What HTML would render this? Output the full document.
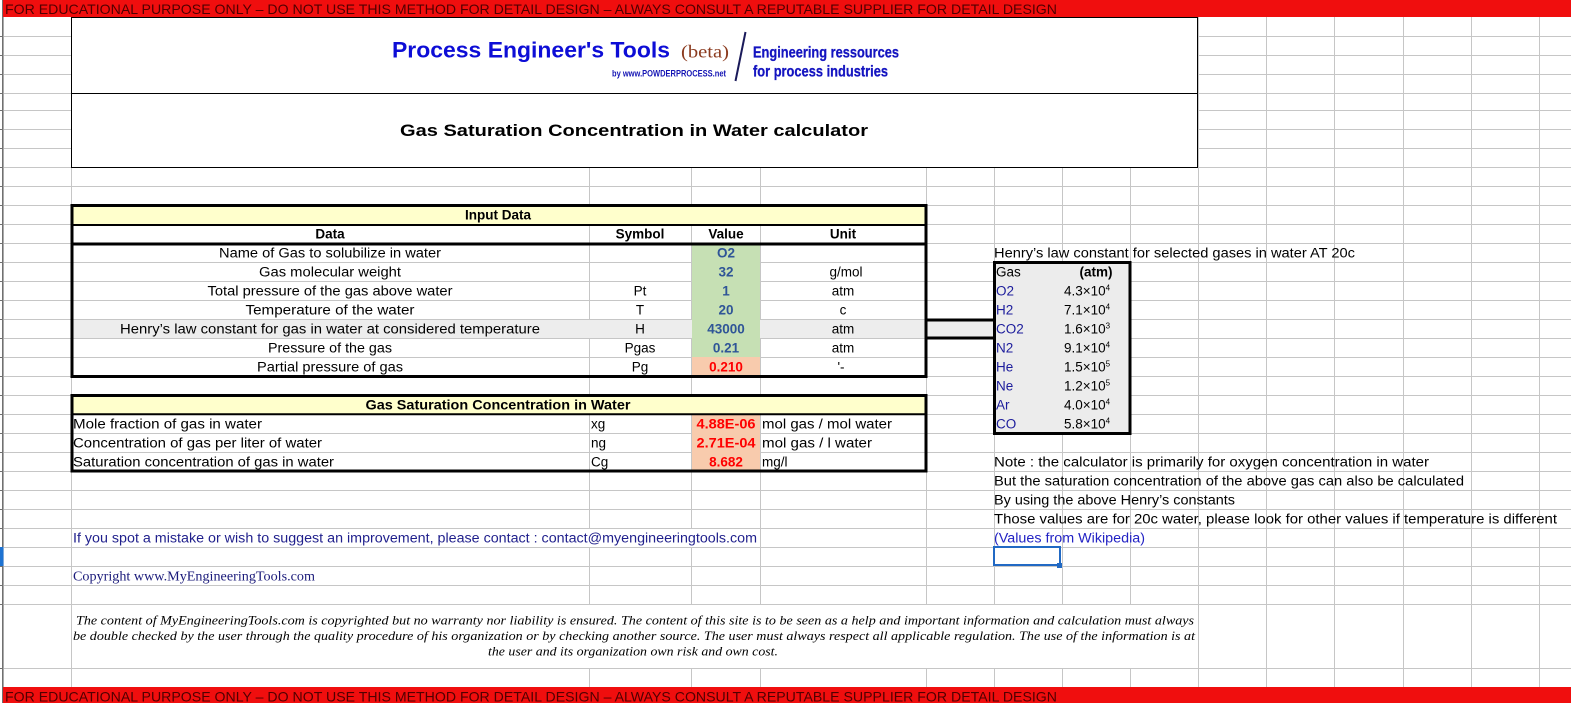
<!DOCTYPE html>
<html><head><meta charset="utf-8">
<style>
html,body{margin:0;padding:0;background:#fff;overflow:hidden;}
svg{display:block;}
text{font-family:"Liberation Sans",Arial,sans-serif;}
.t{font-size:13.5px;fill:#000;}
.b{font-weight:bold;}
text.serif{font-family:"Liberation Serif","Times New Roman",serif;}
text.disc{font-family:"Liberation Serif","Times New Roman",serif;font-style:italic;font-size:12.5px;fill:#000;}
</style></head><body>
<svg width="1571" height="703" viewBox="0 0 1571 703" xmlns="http://www.w3.org/2000/svg">
<rect width="1571" height="703" fill="#fff"/>

<!-- grid lines -->
<g stroke="#c6c6c6" stroke-width="1" shape-rendering="crispEdges">
  <line x1="4" x2="1571" y1="36.5" y2="36.5"/>
  <line x1="4" x2="1571" y1="55.5" y2="55.5"/>
  <line x1="4" x2="1571" y1="74.5" y2="74.5"/>
  <line x1="4" x2="1571" y1="93.5" y2="93.5"/>
  <line x1="4" x2="1571" y1="110.5" y2="110.5"/>
  <line x1="4" x2="1571" y1="129.5" y2="129.5"/>
  <line x1="4" x2="1571" y1="148.5" y2="148.5"/>
  <line x1="4" x2="1571" y1="167.5" y2="167.5"/>
  <line x1="4" x2="1571" y1="186.5" y2="186.5"/>
  <line x1="4" x2="1571" y1="205.5" y2="205.5"/>
  <line x1="4" x2="1571" y1="224.5" y2="224.5"/>
  <line x1="4" x2="1571" y1="243.5" y2="243.5"/>
  <line x1="4" x2="1571" y1="262.5" y2="262.5"/>
  <line x1="4" x2="1571" y1="281.5" y2="281.5"/>
  <line x1="4" x2="1571" y1="300.5" y2="300.5"/>
  <line x1="4" x2="1571" y1="319.5" y2="319.5"/>
  <line x1="4" x2="1571" y1="338.5" y2="338.5"/>
  <line x1="4" x2="1571" y1="357.5" y2="357.5"/>
  <line x1="4" x2="1571" y1="376.5" y2="376.5"/>
  <line x1="4" x2="1571" y1="395.5" y2="395.5"/>
  <line x1="4" x2="1571" y1="414.5" y2="414.5"/>
  <line x1="4" x2="1571" y1="433.5" y2="433.5"/>
  <line x1="4" x2="1571" y1="452.5" y2="452.5"/>
  <line x1="4" x2="1571" y1="471.5" y2="471.5"/>
  <line x1="4" x2="1571" y1="490.5" y2="490.5"/>
  <line x1="4" x2="1571" y1="509.5" y2="509.5"/>
  <line x1="4" x2="1571" y1="528.5" y2="528.5"/>
  <line x1="4" x2="1571" y1="547.5" y2="547.5"/>
  <line x1="4" x2="1571" y1="566.5" y2="566.5"/>
  <line x1="4" x2="1571" y1="585.5" y2="585.5"/>
  <line x1="4" x2="1571" y1="604.5" y2="604.5"/>
  <line x1="4" x2="1571" y1="668.5" y2="668.5"/>

  <line y1="17" y2="687" x1="71.5" x2="71.5"/>
  <line y1="17" y2="687" x1="589.5" x2="589.5"/>
  <line y1="17" y2="687" x1="691.5" x2="691.5"/>
  <line y1="17" y2="687" x1="760.5" x2="760.5"/>
  <line y1="17" y2="687" x1="926.5" x2="926.5"/>
  <line y1="17" y2="687" x1="994.5" x2="994.5"/>
  <line y1="17" y2="687" x1="1062.5" x2="1062.5"/>
  <line y1="17" y2="687" x1="1130.5" x2="1130.5"/>
  <line y1="17" y2="687" x1="1198.5" x2="1198.5"/>
  <line y1="17" y2="687" x1="1266.5" x2="1266.5"/>
  <line y1="17" y2="687" x1="1334.5" x2="1334.5"/>
  <line y1="17" y2="687" x1="1403.5" x2="1403.5"/>
  <line y1="17" y2="687" x1="1471.5" x2="1471.5"/>
  <line y1="17" y2="687" x1="1539.5" x2="1539.5"/>
</g>

<!-- left strip -->
<rect x="2" y="0" width="1.6" height="703" fill="#707070"/>
<g stroke="#707070" stroke-width="1" shape-rendering="crispEdges">
  <line x1="0" x2="3" y1="36.5" y2="36.5"/><line x1="0" x2="3" y1="55.5" y2="55.5"/>
  <line x1="0" x2="3" y1="74.5" y2="74.5"/><line x1="0" x2="3" y1="93.5" y2="93.5"/>
  <line x1="0" x2="3" y1="110.5" y2="110.5"/><line x1="0" x2="3" y1="129.5" y2="129.5"/>
  <line x1="0" x2="3" y1="148.5" y2="148.5"/><line x1="0" x2="3" y1="167.5" y2="167.5"/>
  <line x1="0" x2="3" y1="186.5" y2="186.5"/><line x1="0" x2="3" y1="205.5" y2="205.5"/>
  <line x1="0" x2="3" y1="224.5" y2="224.5"/><line x1="0" x2="3" y1="243.5" y2="243.5"/>
  <line x1="0" x2="3" y1="262.5" y2="262.5"/><line x1="0" x2="3" y1="281.5" y2="281.5"/>
  <line x1="0" x2="3" y1="300.5" y2="300.5"/><line x1="0" x2="3" y1="319.5" y2="319.5"/>
  <line x1="0" x2="3" y1="338.5" y2="338.5"/><line x1="0" x2="3" y1="357.5" y2="357.5"/>
  <line x1="0" x2="3" y1="376.5" y2="376.5"/><line x1="0" x2="3" y1="395.5" y2="395.5"/>
  <line x1="0" x2="3" y1="414.5" y2="414.5"/><line x1="0" x2="3" y1="433.5" y2="433.5"/>
  <line x1="0" x2="3" y1="452.5" y2="452.5"/><line x1="0" x2="3" y1="471.5" y2="471.5"/>
  <line x1="0" x2="3" y1="490.5" y2="490.5"/><line x1="0" x2="3" y1="509.5" y2="509.5"/>
  <line x1="0" x2="3" y1="528.5" y2="528.5"/><line x1="0" x2="3" y1="547.5" y2="547.5"/>
  <line x1="0" x2="3" y1="566.5" y2="566.5"/><line x1="0" x2="3" y1="585.5" y2="585.5"/>
  <line x1="0" x2="3" y1="604.5" y2="604.5"/><line x1="0" x2="3" y1="668.5" y2="668.5"/>
</g>
<rect x="0" y="547" width="3.5" height="19" fill="#1e73d2"/>

<!-- red bands -->
<rect x="3" y="0" width="1568" height="17" fill="#f00e0e"/>
<rect x="3" y="687" width="1568" height="16" fill="#f00e0e"/>
<text x="5" y="14" font-size="14" fill="#500000" textLength="1052" lengthAdjust="spacingAndGlyphs">FOR EDUCATIONAL PURPOSE ONLY – DO NOT USE THIS METHOD FOR DETAIL DESIGN – ALWAYS CONSULT A REPUTABLE SUPPLIER FOR DETAIL DESIGN</text>
<text x="5" y="701.5" font-size="14" fill="#500000" textLength="1052" lengthAdjust="spacingAndGlyphs">FOR EDUCATIONAL PURPOSE ONLY – DO NOT USE THIS METHOD FOR DETAIL DESIGN – ALWAYS CONSULT A REPUTABLE SUPPLIER FOR DETAIL DESIGN</text>

<!-- header box -->
<rect x="72" y="18" width="1126" height="149" fill="#fff"/>
<g stroke="#000" stroke-width="1" fill="none" shape-rendering="crispEdges">
  <rect x="71.5" y="17.5" width="1126" height="150"/>
  <line x1="71.5" x2="1197.5" y1="93.5" y2="93.5"/>
</g>
<text x="392" y="57.5" font-size="22.6" font-weight="bold" fill="#0d0dd6" textLength="278" lengthAdjust="spacingAndGlyphs">Process Engineer's Tools</text>
<text x="681" y="57.5" font-size="18" fill="#8b3b1f" class="serif" textLength="48" lengthAdjust="spacingAndGlyphs">(beta)</text>
<text x="612" y="76.5" font-size="9" font-weight="bold" fill="#1414b4" textLength="114" lengthAdjust="spacingAndGlyphs">by www.POWDERPROCESS.net</text>
<line x1="745.5" y1="32" x2="735.5" y2="81" stroke="#1a1a5a" stroke-width="2"/>
<text x="753" y="57.5" font-size="16" font-weight="bold" fill="#1414c0" stroke="#1414c0" stroke-width="0.3" textLength="146" lengthAdjust="spacingAndGlyphs">Engineering ressources</text>
<text x="753" y="76.5" font-size="16" font-weight="bold" fill="#1414c0" stroke="#1414c0" stroke-width="0.3" textLength="135" lengthAdjust="spacingAndGlyphs">for process industries</text>
<text x="634" y="136" font-size="17" font-weight="bold" fill="#000" text-anchor="middle" textLength="468" lengthAdjust="spacingAndGlyphs">Gas Saturation Concentration in Water calculator</text>

<!-- INPUT TABLE fills -->
<rect x="72" y="206" width="854" height="19" fill="#ffffcc"/>
<rect x="72" y="320" width="922" height="18" fill="#ededed"/>
<rect x="692" y="244" width="68" height="113" fill="#c6e0b4"/>
<rect x="692" y="357" width="68" height="19" fill="#f8cbad"/>
<!-- connector lines -->
<line x1="926" x2="994" y1="320" y2="320" stroke="#000" stroke-width="3"/>
<line x1="926" x2="994" y1="338" y2="338" stroke="#000" stroke-width="3"/>
<!-- input borders -->
<rect x="72" y="205.5" width="854" height="171" fill="none" stroke="#000" stroke-width="3"/>
<line x1="72" x2="926" y1="225" y2="225" stroke="#000" stroke-width="2"/>
<line x1="72" x2="926" y1="244" y2="244" stroke="#000" stroke-width="3"/>

<!-- input texts -->
<text x="498" y="219.5" class="t b" text-anchor="middle">Input Data</text>
<text x="330" y="238.5" class="t b" text-anchor="middle">Data</text>
<text x="640" y="238.5" class="t b" text-anchor="middle">Symbol</text>
<text x="726" y="238.5" class="t b" text-anchor="middle">Value</text>
<text x="843" y="238.5" class="t b" text-anchor="middle">Unit</text>

<text x="330" y="257.5" class="t" text-anchor="middle" textLength="222" lengthAdjust="spacingAndGlyphs">Name of Gas to solubilize in water</text>
<text x="330" y="276.5" class="t" text-anchor="middle" textLength="142" lengthAdjust="spacingAndGlyphs">Gas molecular weight</text>
<text x="330" y="295.5" class="t" text-anchor="middle" textLength="245" lengthAdjust="spacingAndGlyphs">Total pressure of the gas above water</text>
<text x="330" y="314.5" class="t" text-anchor="middle" textLength="169" lengthAdjust="spacingAndGlyphs">Temperature of the water</text>
<text x="330" y="333.5" class="t" text-anchor="middle" textLength="420" lengthAdjust="spacingAndGlyphs">Henry’s law constant for gas in water at considered temperature</text>
<text x="330" y="352.5" class="t" text-anchor="middle" textLength="124" lengthAdjust="spacingAndGlyphs">Pressure of the gas</text>
<text x="330" y="371.5" class="t" text-anchor="middle" textLength="146" lengthAdjust="spacingAndGlyphs">Partial pressure of gas</text>

<text x="640" y="295.5" class="t" text-anchor="middle">Pt</text>
<text x="640" y="314.5" class="t" text-anchor="middle">T</text>
<text x="640" y="333.5" class="t" text-anchor="middle">H</text>
<text x="640" y="352.5" class="t" text-anchor="middle">Pgas</text>
<text x="640" y="371.5" class="t" text-anchor="middle">Pg</text>

<g font-size="13.5" font-weight="bold" fill="#2f5597" text-anchor="middle">
<text x="726" y="257.5">O2</text>
<text x="726" y="276.5">32</text>
<text x="726" y="295.5">1</text>
<text x="726" y="314.5">20</text>
<text x="726" y="333.5">43000</text>
<text x="726" y="352.5">0.21</text>
</g>
<text x="726" y="371.5" font-size="13.5" font-weight="bold" fill="#ff0000" text-anchor="middle">0.210</text>

<text x="846" y="276.5" class="t" text-anchor="middle">g/mol</text>
<text x="843" y="295.5" class="t" text-anchor="middle">atm</text>
<text x="843" y="314.5" class="t" text-anchor="middle">c</text>
<text x="843" y="333.5" class="t" text-anchor="middle">atm</text>
<text x="843" y="352.5" class="t" text-anchor="middle">atm</text>
<text x="841" y="371.5" class="t" text-anchor="middle">'-</text>

<!-- OUTPUT TABLE -->
<rect x="72" y="396" width="854" height="18" fill="#ffffcc"/>
<rect x="692" y="415" width="68" height="56" fill="#f8cbad"/>
<rect x="72" y="395.5" width="854" height="75.5" fill="none" stroke="#000" stroke-width="3"/>
<line x1="72" x2="926" y1="414.3" y2="414.3" stroke="#000" stroke-width="2"/>
<text x="498" y="409.5" class="t b" text-anchor="middle" textLength="265" lengthAdjust="spacingAndGlyphs">Gas Saturation Concentration in Water</text>
<text x="73" y="428.5" class="t" textLength="189" lengthAdjust="spacingAndGlyphs">Mole fraction of gas in water</text>
<text x="73" y="447.5" class="t" textLength="249" lengthAdjust="spacingAndGlyphs">Concentration of gas per liter of water</text>
<text x="73" y="466.5" class="t" textLength="261" lengthAdjust="spacingAndGlyphs">Saturation concentration of gas in water</text>
<text x="591" y="428.5" class="t">xg</text>
<text x="591" y="447.5" class="t">ng</text>
<text x="591" y="466.5" class="t">Cg</text>
<g font-size="13.5" font-weight="bold" fill="#ff0000" text-anchor="middle">
<text x="726" y="428.5" textLength="59" lengthAdjust="spacingAndGlyphs">4.88E-06</text>
<text x="726" y="447.5" textLength="59" lengthAdjust="spacingAndGlyphs">2.71E-04</text>
<text x="726" y="466.5">8.682</text>
</g>
<text x="762" y="428.5" class="t" textLength="130" lengthAdjust="spacingAndGlyphs">mol gas / mol water</text>
<text x="762" y="447.5" class="t" textLength="110" lengthAdjust="spacingAndGlyphs">mol gas / l water</text>
<text x="762" y="466.5" class="t">mg/l</text>

<!-- HENRY TABLE -->
<text x="994" y="257.5" class="t" textLength="361" lengthAdjust="spacingAndGlyphs">Henry’s law constant for selected gases in water AT 20c</text>
<rect x="995" y="263" width="135" height="170" fill="#ececec"/>
<rect x="994.5" y="262.5" width="135.5" height="171" fill="none" stroke="#000" stroke-width="3"/>
<text x="996" y="276.5" class="t">Gas</text>
<text x="1096" y="276.5" class="t b" text-anchor="middle">(atm)</text>
<g font-size="13.5" fill="#1c1c9c">
<text x="996" y="295.5">O2</text>
<text x="996" y="314.5">H2</text>
<text x="996" y="333.5">CO2</text>
<text x="996" y="352.5">N2</text>
<text x="996" y="371.5">He</text>
<text x="996" y="390.5">Ne</text>
<text x="996" y="409.5">Ar</text>
<text x="996" y="428.5">CO</text>
</g>
<g font-size="13.5" fill="#000">
<text x="1064" y="295.5">4.3×10<tspan dy="-5" font-size="8">4</tspan></text>
<text x="1064" y="314.5">7.1×10<tspan dy="-5" font-size="8">4</tspan></text>
<text x="1064" y="333.5">1.6×10<tspan dy="-5" font-size="8">3</tspan></text>
<text x="1064" y="352.5">9.1×10<tspan dy="-5" font-size="8">4</tspan></text>
<text x="1064" y="371.5">1.5×10<tspan dy="-5" font-size="8">5</tspan></text>
<text x="1064" y="390.5">1.2×10<tspan dy="-5" font-size="8">5</tspan></text>
<text x="1064" y="409.5">4.0×10<tspan dy="-5" font-size="8">4</tspan></text>
<text x="1064" y="428.5">5.8×10<tspan dy="-5" font-size="8">4</tspan></text>
</g>

<!-- notes -->
<text x="994" y="466.5" class="t" textLength="435" lengthAdjust="spacingAndGlyphs">Note : the calculator is primarily for oxygen concentration in water</text>
<text x="994" y="485.5" class="t" textLength="470" lengthAdjust="spacingAndGlyphs">But the saturation concentration of the above gas can also be calculated</text>
<text x="994" y="504.5" class="t" textLength="241" lengthAdjust="spacingAndGlyphs">By using the above Henry’s constants</text>
<text x="994" y="523.5" class="t" textLength="563" lengthAdjust="spacingAndGlyphs">Those values are for 20c water, please look for other values if temperature is different</text>
<text x="994" y="542.5" font-size="13.5" fill="#2222c4" textLength="151" lengthAdjust="spacingAndGlyphs">(Values from Wikipedia)</text>

<!-- selected cell -->
<rect x="994" y="547" width="66" height="18" fill="none" stroke="#2169c4" stroke-width="2"/>
<rect x="1057" y="563" width="5" height="5" fill="#2169c4"/>

<!-- contact row -->
<rect x="72" y="529" width="686" height="18" fill="#fff"/>
<text x="73" y="542.5" font-size="13.5" fill="#1f1f8c" textLength="684" lengthAdjust="spacingAndGlyphs">If you spot a mistake or wish to suggest an improvement, please contact : contact@myengineeringtools.com</text>

<text x="73" y="580.5" font-size="13.5" fill="#1a1a7a" class="serif" textLength="242" lengthAdjust="spacingAndGlyphs">Copyright www.MyEngineeringTools.com</text>

<!-- disclaimer -->
<rect x="72" y="605" width="1126" height="63" fill="#fff"/>
<text class="disc" x="635" y="624.5" text-anchor="middle" textLength="1118" lengthAdjust="spacingAndGlyphs">The content of MyEngineeringTools.com is copyrighted but no warranty nor liability is ensured. The content of this site is to be seen as a help and important information and calculation must always</text>
<text class="disc" x="634" y="640" text-anchor="middle" textLength="1122" lengthAdjust="spacingAndGlyphs">be double checked by the user through the quality procedure of his organization or by checking another source. The user must always respect all applicable regulation. The use of the information is at</text>
<text class="disc" x="633" y="655.5" text-anchor="middle" textLength="290" lengthAdjust="spacingAndGlyphs">the user and its organization own risk and own cost.</text>
</svg>
</body></html>
